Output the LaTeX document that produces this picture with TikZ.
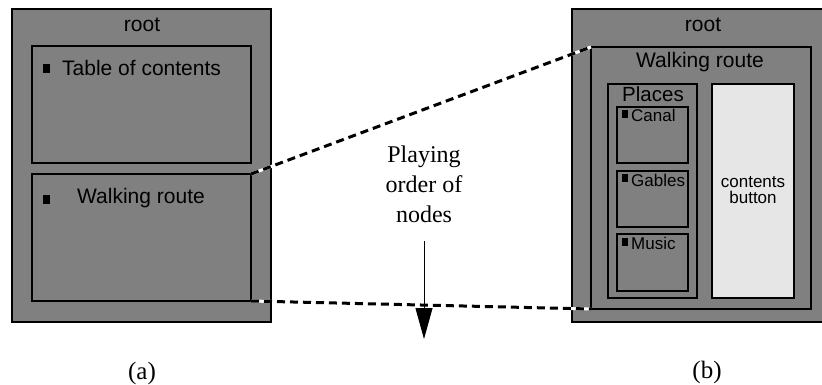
\documentclass[tikz,border=0pt]{standalone}
\usepackage{fontspec}
\setmainfont{Liberation Serif}
\setsansfont{Liberation Sans}
\usetikzlibrary{arrows.meta}
\definecolor{boxgray}{HTML}{808080}
\definecolor{btngray}{HTML}{E6E6E6}
\begin{document}
\begin{tikzpicture}[x=1pt,y=-1pt,
  box/.style={draw=black, line width=1.3pt, fill=boxgray, inner sep=0pt, outer sep=0pt, anchor=north west},
  btn/.style={box, fill=btngray},
  bulletsq/.style={fill=black, inner sep=0pt, outer sep=0pt, anchor=north west},
  bigtxt/.style={font=\sffamily\fontsize{21}{24}\selectfont, inner sep=0pt, anchor=base},
  smalltxt/.style={font=\sffamily\fontsize{17}{17}\selectfont, inner sep=0pt, anchor=base},
  serif/.style={font=\rmfamily\fontsize{24}{30}\selectfont, inner sep=0pt, anchor=base},
  under/.style={draw=white, line width=3pt},
  dashline/.style={draw=black, line width=3pt, dash pattern=on 8pt off 5pt}
]
\useasboundingbox (0,0) rectangle (822,385);
% left panel
\node[box, minimum width=259pt, minimum height=313pt] (lroot) at (12,9) {};
\node[box, minimum width=219pt, minimum height=117pt] (toc) at (32,46) {};
\node[box, minimum width=219pt, minimum height=127pt] (lwalk) at (32,174) {};
\node[bulletsq, minimum width=7pt, minimum height=9pt] (m1) at (43,64.5) {};
\node[bulletsq, minimum width=7pt, minimum height=9pt] (m2) at (43,194.5) {};
\node[bigtxt] (lroottxt) at (142,32) {root};
\node[bigtxt, anchor=base west] (toctxt) at (62,76) {Table of contents};
\node[bigtxt, anchor=base west] (lwalktxt) at (77,204) {Walking route};
% right panel
\node[box, minimum width=262pt, minimum height=313pt] (rroot) at (572,9) {};
\node[box, minimum width=220pt, minimum height=262pt] (rwalk) at (591,47) {};
\node[box, minimum width=89pt, minimum height=214pt] (places) at (608,84) {};
\node[box, minimum width=71pt, minimum height=56pt] (canal) at (617,107) {};
\node[box, minimum width=71pt, minimum height=56pt] (gables) at (617,171) {};
\node[box, minimum width=71pt, minimum height=57pt] (music) at (617,234) {};
\node[btn, minimum width=82pt, minimum height=214pt] (button) at (712,84) {};
\node[bulletsq, minimum width=6pt, minimum height=8.5pt] (m3) at (621.5,110) {};
\node[bulletsq, minimum width=6pt, minimum height=8.5pt] (m4) at (621.5,173.5) {};
\node[bulletsq, minimum width=6pt, minimum height=8.5pt] (m5) at (621.5,237.5) {};
\node[bigtxt] (rroottxt) at (703,32) {root};
\node[bigtxt] (rwalktxt) at (700,68) {Walking route};
\node[bigtxt, font=\sffamily\fontsize{20.5}{24}\selectfont] (placestxt) at (653,102) {Places};
\node[smalltxt, anchor=base west] (canaltxt) at (631,122) {Canal};
\node[smalltxt, anchor=base west] (gablestxt) at (631,186) {Gables};
\node[smalltxt, anchor=base west] (musictxt) at (631,249) {Music};
\node[smalltxt] (btntxt1) at (753,187) {contents};
\node[smalltxt] (btntxt2) at (753,204) {button};
% connectors
\draw[under] (lwalk.north east) -- (rwalk.north west);
\draw[dashline] (lwalk.north east) -- (rwalk.north west);
\draw[under] (lwalk.south east) -- (rwalk.south west);
\draw[dashline] (lwalk.south east) -- (rwalk.south west);
% playing order
\node[serif] (play1) at (424,162) {Playing};
\node[serif] (play2) at (424,192) {order of};
\node[serif] (play3) at (424,222) {nodes};
\coordinate (arrtop) at (424,241);
\coordinate (arrtip) at (424,339);
\draw[line width=1pt, -{Triangle[length=31pt, width=17pt]}] (arrtop) -- (arrtip);
% captions
\node[serif, font=\rmfamily\fontsize{25}{30}\selectfont] (capa) at (142,379) {(a)};
\node[serif, font=\rmfamily\fontsize{25}{30}\selectfont] (capb) at (707,378) {(b)};
\end{tikzpicture}
\end{document}
